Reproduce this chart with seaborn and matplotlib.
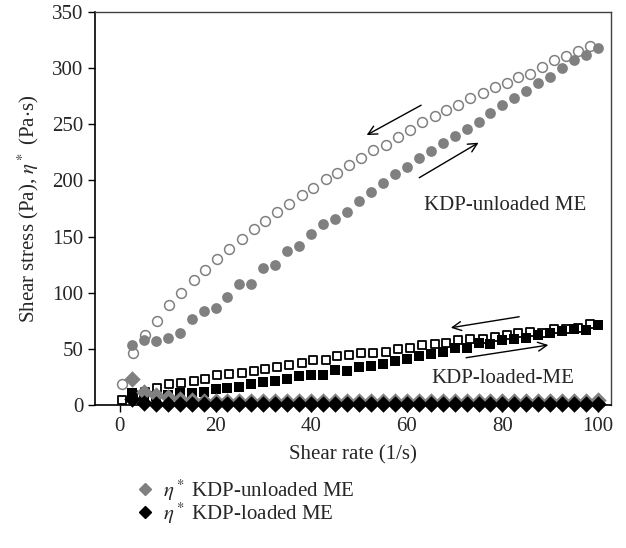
import numpy as np
import pandas as pd
import matplotlib
matplotlib.use("Agg")
import matplotlib.pyplot as plt
import seaborn as sns
from matplotlib.lines import Line2D

sns.set_style("ticks")
plt.rcParams['font.family'] = ['Liberation Serif', 'DejaVu Serif']
plt.rcParams['mathtext.fontset'] = 'stix'

# ---- data ----
x_up = [2.5, 5, 7.5, 10, 12.5, 15, 17.5, 20, 22.5, 25, 27.5, 30, 32.5, 35, 37.5, 40,
        42.5, 45, 47.5, 50, 52.5, 55, 57.5, 60, 62.5, 65, 67.5, 70, 72.5, 75, 77.5, 80,
        82.5, 85, 87.5, 90, 92.5, 95, 97.5, 100]
x_down = [0.35, 2.8, 5.3, 7.8, 10.3, 12.8, 15.4, 17.9, 20.4, 22.9, 25.5, 28.0, 30.4, 32.9,
          35.4, 38.0, 40.4, 43.0, 45.5, 48.0, 50.5, 53.0, 55.6, 58.1, 60.7, 63.2, 65.8, 68.2,
          70.7, 73.3, 75.9, 78.4, 80.9, 83.3, 85.7, 88.3, 90.8, 93.3, 95.8, 98.4]

unloaded_up = [53, 58, 57, 60, 64, 77, 84, 86, 96, 108, 108, 122, 125, 137, 142, 152,
               161, 166, 172, 182, 190, 198, 206, 212, 220, 226, 233, 240, 246, 252, 260, 267,
               273, 280, 287, 292, 300, 307, 312, 318]
unloaded_down = [19, 46, 62, 75, 89, 100, 111, 120, 130, 139, 148, 157, 164, 172, 179, 187,
                 193, 201, 207, 214, 220, 227, 231.5, 239, 245, 252, 257, 263, 267, 273, 278, 283,
                 287, 292, 295, 301, 307, 311, 315, 320]
loaded_up = [11, 8, 8, 9, 10.4, 11, 12, 14, 15.4, 16, 18.5, 20.3, 21.8, 22.8, 26, 26.7,
             26.4, 31.2, 30.3, 34, 35, 36.5, 39.2, 40.7, 43.6, 45.4, 46.9, 51, 51, 55.5, 54.3, 57.9,
             58.5, 59.4, 62.3, 63.8, 65.9, 67.4, 66.8, 71.2]
loaded_down = [4.5, 9, 11.3, 14.8, 18.4, 19.3, 21.4, 23.1, 26.7, 27.6, 28.5, 30.6, 32, 34, 35.5, 37.8,
               40.3, 40, 43.3, 44.2, 46.7, 46, 47.5, 49.9, 51, 53.4, 54, 55, 57.9, 58.5, 58.8, 60.8,
               62, 63.8, 65.3, 64.4, 67.4, 67.4, 68.3, 72]
eta_unloaded = [23, 12, 9, 7, 5.5, 4.5, 4, 3.5, 3.5, 3.5, 3.5, 3.5, 3.5, 3.5, 3.5, 3.5,
                3.5, 3.5, 3.5, 3.5, 3.5, 3.5, 3.5, 3.5, 3.5, 3.5, 3.5, 3.5, 3.5, 3.5, 3.5, 3.5,
                3.5, 3.5, 3.5, 3.5, 3.5, 3.5, 3.5, 4.5]
eta_loaded = [5, 1.5, 0.5, 0.5, 0.5, 0.5, 0.5, 0.5, 0.5, 0.5, 0.5, 0.5, 0.5, 0.5, 0.5, 0.5,
              0.5, 0.5, 0.5, 0.5, 0.5, 0.5, 0.5, 0.5, 0.5, 0.5, 0.5, 0.5, 0.5, 0.5, 0.5, 0.5,
              0.5, 0.5, 0.5, 0.5, 0.5, 0.5, 0.5, 0.5]

legend_labels = [r"$\eta^*$ KDP-unloaded ME", r"$\eta^*$ KDP-loaded ME"]
x_ticks = [0, 20, 40, 60, 80, 100]
y_ticks = [0, 50, 100, 150, 200, 250, 300, 350]

GRAY = "#808080"
FS = 15

fig = plt.figure(figsize=(6.26, 5.48), dpi=100)
ax = fig.add_axes([95/626, 1-405/548, (611-95)/626, (405-12)/548])

# curves
sns.scatterplot(x=x_down, y=unloaded_down, ax=ax, marker='o', s=50, facecolor='white',
                edgecolor=GRAY, linewidth=1.1, zorder=3)
sns.scatterplot(x=x_up, y=unloaded_up, ax=ax, marker='o', s=60, color=GRAY,
                edgecolor=GRAY, linewidth=0, zorder=3)
sns.scatterplot(x=x_down, y=loaded_down, ax=ax, marker='s', s=40, facecolor='white',
                edgecolor='black', linewidth=1.3, zorder=4)
sns.scatterplot(x=x_up, y=loaded_up, ax=ax, marker='s', s=44, color='black',
                edgecolor='black', linewidth=0, zorder=4)
sns.scatterplot(x=x_up, y=eta_unloaded, ax=ax, marker='D', s=70, color=GRAY,
                edgecolor=GRAY, linewidth=0, zorder=5, clip_on=False)
sns.scatterplot(x=x_up, y=eta_loaded, ax=ax, marker='D', s=70, color='black',
                edgecolor='black', linewidth=0, zorder=6, clip_on=False)

ax.set_xlim(-5.2, 102.7)
ax.set_ylim(0, 350)
ax.set_xticks(x_ticks)
ax.set_yticks(y_ticks)
ax.tick_params(labelsize=FS, length=5, width=1, color='black', direction='out')
ax.set_xlabel("Shear rate (1/s)", fontsize=FS, labelpad=7)
ax.set_ylabel(r"Shear stress (Pa), $\eta^*$ (Pa$\cdot$s)", fontsize=FS, labelpad=8)

for side in ['left', 'bottom']:
    ax.spines[side].set_color('black')
    ax.spines[side].set_linewidth(1.2)
for side in ['top', 'right']:
    ax.spines[side].set_visible(True)
    ax.spines[side].set_color('#404040')
    ax.spines[side].set_linewidth(1.0)

arrow = dict(arrowstyle='->', lw=1.0, color='black', mutation_scale=16, shrinkA=0, shrinkB=0)
ax.annotate('', xy=(51.6, 240.4), xytext=(63, 267), arrowprops=arrow)
ax.annotate('', xy=(75, 233.6), xytext=(62.6, 202.4), arrowprops=arrow)
ax.annotate('', xy=(69.2, 68.8), xytext=(83.5, 78.6), arrowprops=arrow)
ax.annotate('', xy=(89.6, 53.4), xytext=(72.4, 42.1), arrowprops=arrow)
ax.text(80.5, 178, "KDP-unloaded ME", fontsize=FS, ha='center', va='center')
ax.text(80, 23.7, "KDP-loaded-ME", fontsize=FS, ha='center', va='center')

handle_colors = [GRAY, 'black']
row_y = [490, 513]
for lbl, col, ry in zip(legend_labels, handle_colors, row_y):
    h = Line2D([], [], marker='D', color=col, linestyle='none', markersize=6)
    fig.legend([h], [lbl], loc='center left', bbox_to_anchor=(132/626, 1-ry/548),
               frameon=False, fontsize=FS, handletextpad=0.3,
               handlelength=1.2, borderaxespad=0, borderpad=0)

fig.savefig("out.png", dpi=100)
